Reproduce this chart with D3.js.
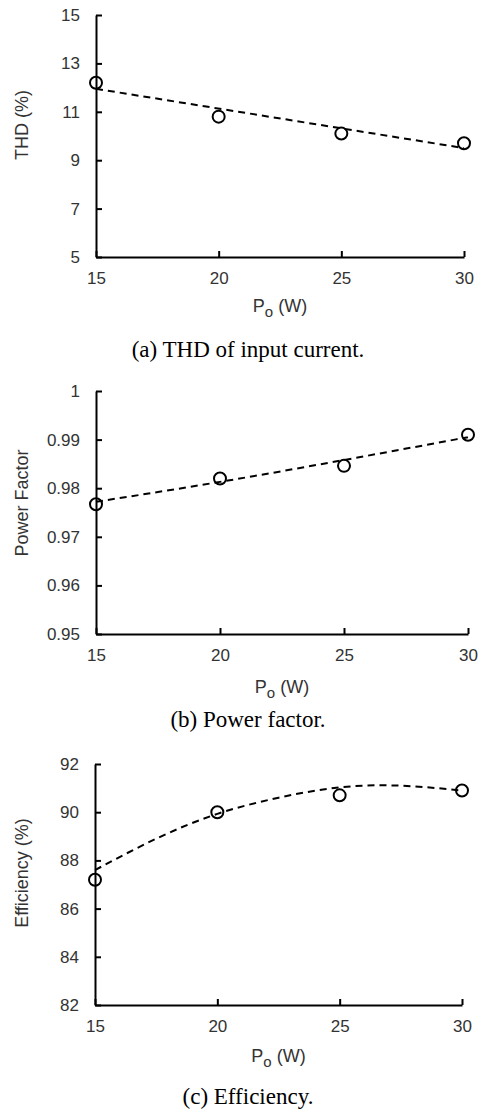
<!DOCTYPE html>
<html>
<head>
<meta charset="utf-8">
<script src="https://cdn.jsdelivr.net/npm/d3@7/dist/d3.min.js"></script>
<style>
  html, body { margin: 0; padding: 0; background: #fff; }
  svg { display: block; }
</style>
</head>
<body>
<svg id="chart" width="478" height="1113"></svg>
<script>
// ---------- data ----------
const powerOut = [15, 20, 25, 30];
const xTicks = [15, 20, 25, 30];

const thdValues = [12.2, 10.8, 10.1, 9.7];
const thdTrendX = [15, 30];
const thdTrend = [11.95, 9.5];
const thdTicks = [5, 7, 9, 11, 13, 15];

const pfValues = [0.9767, 0.982, 0.9846, 0.991];
const pfTrendX = [15, 20, 25, 30];
const pfTrend = [0.9772, 0.9813, 0.9858, 0.9905];
const pfTicks = [0.95, 0.96, 0.97, 0.98, 0.99, 1];

const effValues = [87.2, 90.0, 90.7, 90.9];
const effTrendX = [15, 17.5, 20, 22.5, 25, 27.5, 30];
const effTrend = [87.6, 88.9, 89.93, 90.6, 91.03, 91.1, 90.9];
const effTicks = [82, 84, 86, 88, 90, 92];

const yTitles = ["THD (%)", "Power Factor", "Efficiency (%)"];
const captions = ["(a) THD of input current.", "(b) Power factor.", "(c) Efficiency."];

// ---------- layout ----------
const panels = [
  { vals: thdValues, tx: thdTrendX, ty: thdTrend, ticks: thdTicks, ydom: [5, 15],
    xr: [96, 464], yr: [257, 15], yTitleY: 125, xTitleY: 312, capY: 357, curve: d3.curveLinear },
  { vals: pfValues, tx: pfTrendX, ty: pfTrend, ticks: pfTicks, ydom: [0.95, 1],
    xr: [96, 468], yr: [634, 391], yTitleY: 503, xTitleY: 693, capY: 727, curve: d3.curveNatural },
  { vals: effValues, tx: effTrendX, ty: effTrend, ticks: effTicks, ydom: [82, 92],
    xr: [95, 462], yr: [1005, 764], yTitleY: 873, xTitleY: 1062, capY: 1104, curve: d3.curveNatural }
];

const svg = d3.select("#chart");
const sans = "'Liberation Sans', Arial, Helvetica, sans-serif";
const serif = "'Liberation Serif', 'Times New Roman', serif";

panels.forEach((p, i) => {
  const x = d3.scaleLinear().domain([15, 30]).range(p.xr);
  const y = d3.scaleLinear().domain(p.ydom).range(p.yr);
  const g = svg.append("g");

  const ya = g.append("g")
    .attr("transform", `translate(${p.xr[0]},0)`)
    .call(d3.axisLeft(y).tickValues(p.ticks).tickSizeInner(-6).tickSizeOuter(0).tickPadding(16)
      .tickFormat(d3.format("~g")));
  const xa = g.append("g")
    .attr("transform", `translate(0,${p.yr[0]})`)
    .call(d3.axisBottom(x).tickValues(xTicks).tickSizeInner(-6).tickSizeOuter(0).tickPadding(15));

  [ya, xa].forEach(a => {
    a.select(".domain").attr("stroke", "#000").attr("stroke-width", 2);
    a.selectAll(".tick line").attr("stroke", "#000").attr("stroke-width", 2);
    a.selectAll(".tick text").attr("fill", "#333").style("font-family", sans).style("font-size", "17px");
  });

  const line = d3.line().x(d => x(d[0])).y(d => y(d[1])).curve(p.curve);
  g.append("path")
    .datum(p.tx.map((v, k) => [v, p.ty[k]]))
    .attr("d", line)
    .attr("fill", "none")
    .attr("stroke", "#000")
    .attr("stroke-width", 2)
    .attr("stroke-dasharray", "7,5");

  g.selectAll("circle.pt")
    .data(powerOut.map((v, k) => [v, p.vals[k]]))
    .join("circle")
    .attr("class", "pt")
    .attr("cx", d => x(d[0]))
    .attr("cy", d => y(d[1]))
    .attr("r", 6)
    .attr("fill", "none")
    .attr("stroke", "#000")
    .attr("stroke-width", 2);

  g.append("text")
    .attr("transform", `translate(28,${p.yTitleY}) rotate(-90)`)
    .attr("text-anchor", "middle")
    .attr("fill", "#333")
    .style("font-family", sans).style("font-size", "18px")
    .text(yTitles[i]);

  const xt = g.append("text")
    .attr("x", (p.xr[0] + p.xr[1]) / 2)
    .attr("y", p.xTitleY)
    .attr("text-anchor", "middle")
    .attr("fill", "#333")
    .style("font-family", sans).style("font-size", "18px");
  xt.append("tspan").text("P");
  xt.append("tspan").attr("dy", 5).style("font-size", "15px").text("o");
  xt.append("tspan").attr("dy", -5).text(" (W)");

  g.append("text")
    .attr("x", 248)
    .attr("y", p.capY)
    .attr("text-anchor", "middle")
    .attr("fill", "#000")
    .style("font-family", serif).style("font-size", "23px")
    .text(captions[i]);
});
</script>
</body>
</html>
